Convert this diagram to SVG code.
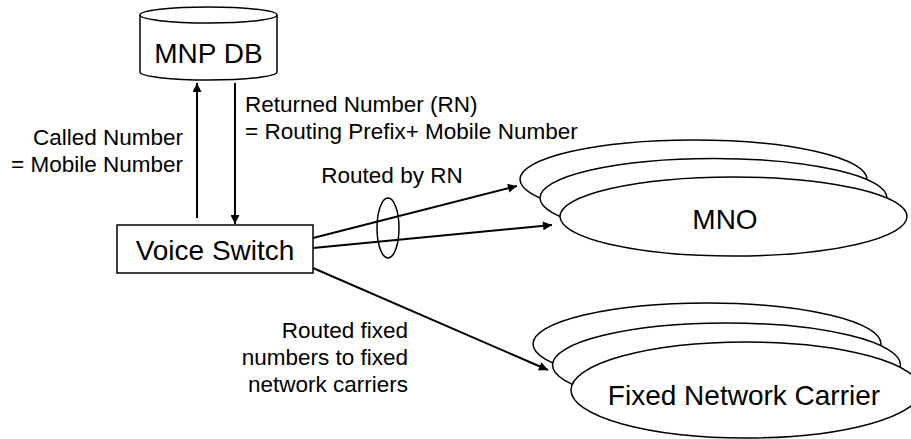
<svg xmlns="http://www.w3.org/2000/svg" width="911" height="439" viewBox="0 0 911 439">
<style>
text{font-family:"Liberation Sans",Arial,sans-serif;fill:#000}
.big{font-size:28px}
.sm{font-size:22.5px}
.sh{fill:#fff;stroke:#000;stroke-width:1.5}
.ln{stroke:#000;stroke-width:2;fill:none}
</style>
<defs>
<marker id="ah" viewBox="0 0 10 10" refX="10" refY="5" markerWidth="12" markerHeight="9" markerUnits="userSpaceOnUse" orient="auto">
<path d="M0,0 L10,5 L0,10 z" fill="#000"/>
</marker>
</defs>
<g id="mnpdb">
<path class="sh" d="M140,15 L140,72 A68.5,8 0 0 0 277,72 L277,15"/>
<ellipse class="sh" cx="208.5" cy="15" rx="68.5" ry="8"/>
<text class="big" x="208.5" y="63" text-anchor="middle">MNP DB</text>
</g>
<g id="voiceswitch">
<rect class="sh" x="117" y="225" width="196" height="48" stroke-width="1"/>
<text class="big" x="215" y="260" text-anchor="middle" font-size="29">Voice Switch</text>
</g>
<g id="mno">
<ellipse class="sh" cx="693.5" cy="179.5" rx="173.5" ry="39.5"/>
<ellipse class="sh" cx="713.5" cy="198" rx="173.5" ry="39.5"/>
<ellipse class="sh" cx="733.5" cy="216.5" rx="173.5" ry="39.5"/>
<text class="big" x="725" y="229" text-anchor="middle">MNO</text>
</g>
<g id="fixed">
<ellipse class="sh" cx="707" cy="344" rx="174" ry="41"/>
<ellipse class="sh" cx="726.5" cy="365" rx="174" ry="42"/>
<ellipse class="sh" cx="746" cy="390" rx="175" ry="48"/>
<text class="big" x="744" y="405" text-anchor="middle" font-size="26">Fixed Network Carrier</text>
</g>
<g id="connectors">
<line class="ln" x1="197" y1="218" x2="197" y2="83" marker-end="url(#ah)"/>
<line class="ln" x1="235" y1="83" x2="235" y2="224" marker-end="url(#ah)"/>
<line class="ln" x1="313" y1="238" x2="517" y2="186" marker-end="url(#ah)"/>
<line class="ln" x1="313" y1="248" x2="552" y2="225" marker-end="url(#ah)"/>
<line class="ln" x1="313" y1="268" x2="548" y2="370" marker-end="url(#ah)"/>
<ellipse cx="388" cy="228" rx="11" ry="30" fill="none" stroke="#000" stroke-width="1.5"/>
</g>
<g id="labels">
<text class="sm" x="183" y="145" text-anchor="end">Called Number</text>
<text class="sm" x="183" y="172" text-anchor="end">= Mobile Number</text>
<text class="sm" x="245" y="112">Returned Number (RN)</text>
<text class="sm" x="245" y="139">= Routing Prefix+ Mobile Number</text>
<text class="sm" x="392" y="183" text-anchor="middle">Routed by RN</text>
<text class="sm" x="408" y="338" text-anchor="end">Routed fixed</text>
<text class="sm" x="408" y="365" text-anchor="end">numbers to fixed</text>
<text class="sm" x="408" y="392" text-anchor="end">network carriers</text>
</g>
</svg>
